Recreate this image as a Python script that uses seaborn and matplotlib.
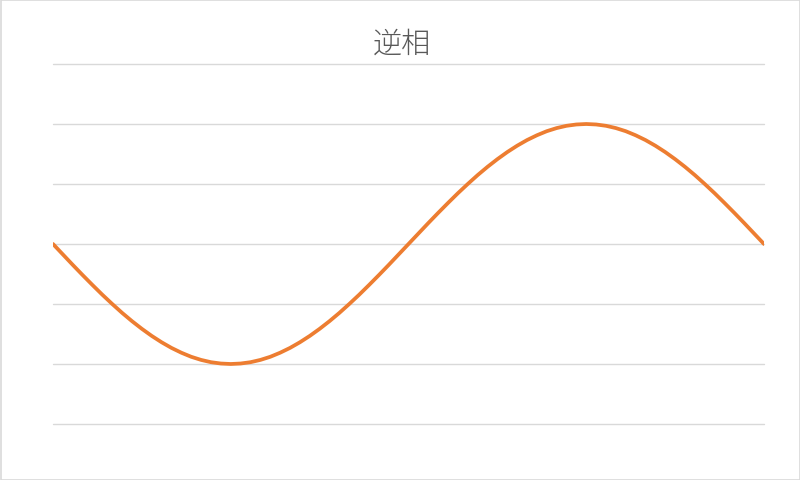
import matplotlib
matplotlib.use("Agg")
import matplotlib.pyplot as plt
import seaborn as sns
import pandas as pd
from matplotlib.patches import Rectangle

# --- Dados (fase em graus, valor) ---
angles = list(range(0, 361, 5))
values = [0.0, -0.087, -0.174, -0.259, -0.342, -0.423, -0.5, -0.574, -0.643, -0.707,
          -0.766, -0.819, -0.866, -0.906, -0.94, -0.966, -0.985, -0.996, -1.0,
          -0.996, -0.985, -0.966, -0.94, -0.906, -0.866, -0.819, -0.766, -0.707,
          -0.643, -0.574, -0.5, -0.423, -0.342, -0.259, -0.174, -0.087, 0.0,
          0.087, 0.174, 0.259, 0.342, 0.423, 0.5, 0.574, 0.643, 0.707,
          0.766, 0.819, 0.866, 0.906, 0.94, 0.966, 0.985, 0.996, 1.0,
          0.996, 0.985, 0.966, 0.94, 0.906, 0.866, 0.819, 0.766, 0.707,
          0.643, 0.574, 0.5, 0.423, 0.342, 0.259, 0.174, 0.087, 0.0]
y_ticks = [-1.5, -1.0, -0.5, 0.0, 0.5, 1.0, 1.5]
title = "逆相"

df = pd.DataFrame({"angle": angles, "value": values})

sns.set_theme(style="white")
plt.rcParams["font.family"] = ["Noto Sans CJK JP", "DejaVu Sans"]

fig = plt.figure(figsize=(8, 4.81), dpi=100)
ax = fig.add_axes([53 / 800, 1 - 425 / 481, 711 / 800, 360 / 481])

for yt in y_ticks:
    ax.axhline(yt, color="#D9D9D9", lw=1.0, zorder=0, clip_on=False)

sns.lineplot(data=df, x="angle", y="value", ax=ax, color="#ED7D31",
             linewidth=2.7, zorder=3)

ax.set_xlim(0, 360)
ax.set_ylim(-1.5, 1.5)
ax.set_xticks([])
ax.set_yticks([])
ax.set_xlabel("")
ax.set_ylabel("")
for s in ax.spines.values():
    s.set_visible(False)
ax.patch.set_alpha(0)

fig.text(0.502, 1 - 41 / 481, title, ha="center", va="center_baseline",
         fontsize=21, color="#595959", fontweight="light")

# borda cinza clara da área do gráfico
fig.patches.append(Rectangle((0.5 / 800, 0.5 / 481), 799 / 800, 480 / 481,
                             transform=fig.transFigure, fill=False,
                             edgecolor="#D9D9D9", lw=1.2))

fig.savefig("out.png", dpi=100)
